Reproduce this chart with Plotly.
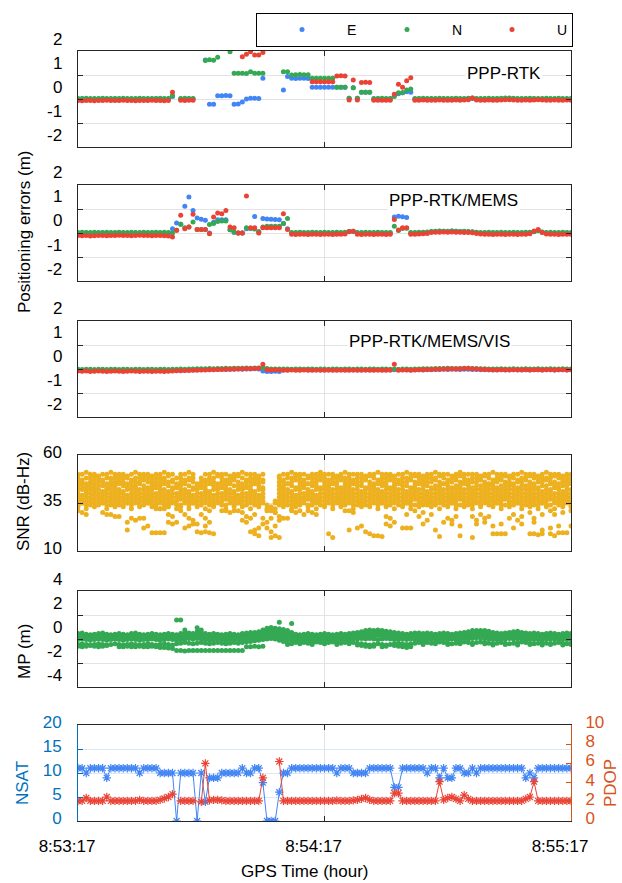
import plotly.graph_objects as go

NA = None
W, H = 622, 883

# ---------------- time axis (1 Hz epochs after 8:53:17) ----------------
EPOCH_SECONDS = list(range(0, 121))
TIME_TICK_SECONDS = [0, 60, 120]
TIME_TICK_LABELS = ["8:53:17", "8:54:17", "8:55:17"]

# ---------------- positioning errors (m) ----------------
E_RTK = [
 0.00, 0.01, 0.00, -0.01, 0.00, 0.00, 0.01, 0.00, 0.00, 0.01,
 0.00, 0.00, -0.01, 0.00, 0.00, 0.01, 0.00, 0.00, 0.00, 0.01,
 0.00, 0.00, 0.01, 0.10, NA, 0.00, 0.00, 0.01, 0.00, NA,
 NA, 1.62, -0.22, -0.22, 0.14, 0.14, 0.15, 0.14, -0.22, -0.21,
 -0.12, 0.00, 0.03, 0.03, 0.02, 0.86, NA, NA, NA, NA,
 0.38, 0.94, 0.86, 0.85, 0.86, 0.86, 0.85, 0.49, 0.49, 0.49,
 0.49, 0.49, 0.49, 0.49, 0.49, 0.49, 0.03, 0.47, 0.03, 0.28,
 0.28, 0.28, 0.00, 0.01, 0.00, 0.00, 0.01, 0.17, 0.22, 0.26,
 0.30, 0.28, 0.00, 0.01, 0.00, 0.00, 0.01, 0.00, 0.00, 0.01,
 0.00, 0.00, 0.01, 0.00, 0.00, 0.01, 0.02, 0.00, 0.00, 0.01,
 0.00, 0.00, 0.01, 0.00, 0.01, 0.02, 0.01, 0.00, 0.00, 0.01,
 0.00, 0.01, 0.00, 0.00, 0.01, 0.00, 0.00, 0.01, 0.00, 0.00, 0.01]
N_RTK = [
 0.02, 0.02, 0.03, 0.02, 0.02, 0.02, 0.03, 0.02, 0.02, 0.02,
 0.02, 0.03, 0.02, 0.02, 0.02, 0.03, 0.02, 0.02, 0.02, 0.02,
 0.03, 0.02, 0.02, 0.14, NA, 0.02, 0.03, 0.02, 0.02, NA,
 NA, 1.60, 1.64, 1.61, 1.74, 2.10, 2.10, 1.97, 1.07, 1.07,
 1.07, 1.06, 1.14, 1.07, 1.07, 1.07, NA, NA, NA, NA,
 1.14, 1.14, 1.00, 1.01, 1.02, 1.01, 1.01, 0.86, 0.86, 0.86,
 0.86, 0.86, 0.86, 0.49, 0.49, 0.49, 0.03, 0.47, 0.03, 0.28,
 0.28, 0.28, 0.02, 0.02, 0.03, 0.02, 0.02, 0.10, 0.26, 0.26,
 0.37, 0.42, 0.02, 0.02, 0.03, 0.02, 0.02, 0.02, 0.03, 0.02,
 0.02, 0.02, 0.03, 0.02, 0.02, 0.03, 0.04, 0.02, 0.02, 0.02,
 0.03, 0.02, 0.02, 0.03, 0.04, 0.04, 0.03, 0.02, 0.02, 0.02,
 0.03, 0.02, 0.02, 0.02, 0.03, 0.02, 0.02, 0.03, 0.02, 0.02, 0.02]
U_RTK = [
 -0.06, -0.07, -0.06, -0.06, -0.07, -0.06, -0.06, -0.05, -0.06, -0.06,
 -0.06, -0.05, -0.06, -0.06, -0.07, -0.06, -0.06, -0.06, -0.05, -0.06,
 -0.06, -0.07, -0.06, 0.28, NA, -0.05, -0.06, -0.05, -0.05, NA,
 NA, 2.30, 2.30, 2.30, 2.30, 2.30, 2.30, 2.30, 2.30, 2.30,
 1.76, 1.86, 1.97, 1.83, 1.83, 1.94, NA, NA, NA, NA,
 2.30, 2.30, 2.30, 2.30, 2.30, 2.30, 2.30, 0.72, 0.72, 0.72,
 0.72, 0.72, 0.72, 0.96, 0.97, 0.96, -0.04, 0.79, -0.04, 0.69,
 0.70, 0.69, -0.05, -0.05, -0.05, -0.05, -0.05, 0.20, 0.61, 0.49,
 0.76, 0.89, -0.05, -0.05, -0.04, -0.05, -0.05, -0.05, -0.04, -0.05,
 -0.05, -0.05, -0.04, -0.05, -0.04, -0.03, 0.04, -0.04, -0.05, -0.05,
 -0.04, -0.05, -0.05, -0.04, -0.03, -0.03, -0.04, -0.05, -0.05, -0.04,
 -0.05, -0.04, -0.03, -0.04, -0.05, -0.05, -0.04, -0.05, -0.05, -0.04, -0.05]

E_MEMS = [
 0.00, 0.00, 0.01, 0.00, 0.00, 0.00, 0.01, 0.00, 0.00, 0.00,
 0.01, 0.00, 0.00, 0.00, 0.01, 0.00, 0.00, 0.00, 0.01, 0.00,
 0.00, 0.00, 0.00, 0.18, 0.42, 0.36, 1.11, 1.50, 0.94, 0.63,
 0.57, 0.53, 0.00, 0.45, 0.55, 0.55, 0.55, 0.14, 0.03, 0.00,
 0.00, 0.18, 0.20, 0.69, 0.05, 0.60, 0.58, 0.57, 0.56, 0.55,
 0.40, 0.18, 0.00, 0.00, 0.01, 0.00, 0.00, 0.00, 0.01, 0.00,
 0.00, 0.00, 0.00, 0.01, 0.00, 0.00, 0.05, 0.06, 0.00, 0.00,
 0.00, 0.01, 0.00, 0.00, 0.00, 0.00, 0.00, 0.67, 0.70, 0.68,
 0.65, 0.00, 0.00, 0.00, 0.01, 0.02, 0.05, 0.06, 0.07, 0.07,
 0.06, 0.08, 0.07, 0.06, 0.06, 0.05, 0.04, 0.02, 0.00, 0.00,
 0.00, 0.01, 0.00, 0.00, 0.00, 0.00, 0.00, 0.01, 0.00, 0.00,
 0.02, 0.05, 0.10, 0.03, 0.00, 0.00, 0.00, 0.00, 0.01, 0.00, 0.00]
N_MEMS = [
 0.02, 0.03, 0.02, 0.02, 0.03, 0.02, 0.02, 0.03, 0.02, 0.02,
 0.03, 0.02, 0.02, 0.03, 0.02, 0.02, 0.03, 0.02, 0.02, 0.03,
 0.02, 0.03, 0.02, 0.00, 0.11, 0.36, 0.22, 0.25, 0.46, 0.15,
 0.15, 0.15, 0.35, 0.40, 0.48, 0.50, 0.50, 0.14, 0.03, 0.00,
 0.00, 0.22, 0.19, 0.17, 0.05, 0.25, 0.28, 0.28, 0.28, 0.28,
 0.40, 0.60, 0.02, 0.02, 0.03, 0.02, 0.02, 0.03, 0.02, 0.02,
 0.03, 0.02, 0.02, 0.03, 0.02, 0.03, 0.06, 0.07, 0.02, 0.02,
 0.03, 0.02, 0.02, 0.03, 0.02, 0.02, 0.02, 0.28, 0.10, 0.19,
 0.20, 0.02, 0.02, 0.03, 0.03, 0.04, 0.06, 0.07, 0.08, 0.07,
 0.07, 0.08, 0.07, 0.06, 0.07, 0.06, 0.05, 0.03, 0.02, 0.02,
 0.03, 0.02, 0.02, 0.03, 0.02, 0.02, 0.03, 0.02, 0.02, 0.03,
 0.03, 0.06, 0.09, 0.04, 0.02, 0.03, 0.02, 0.02, 0.03, 0.02, 0.02]
U_MEMS = [
 -0.10, -0.11, -0.10, -0.12, -0.11, -0.10, -0.10, -0.11, -0.10, -0.10,
 -0.09, -0.10, -0.10, -0.11, -0.10, -0.09, -0.10, -0.10, -0.11, -0.10,
 -0.10, -0.11, -0.12, -0.17, 0.11, 0.74, 0.18, 0.25, 0.78, 0.15,
 0.15, 0.15, -0.03, 0.67, 0.83, 0.80, 0.94, 0.25, 0.22, 0.00,
 0.00, 1.54, 0.22, 0.22, 0.00, 0.22, 0.22, 0.22, 0.22, 0.22,
 0.80, 0.15, -0.05, -0.06, -0.05, -0.05, -0.06, -0.05, -0.05, -0.06,
 -0.05, -0.05, -0.06, -0.05, -0.05, -0.04, 0.06, 0.07, -0.05, -0.06,
 -0.05, -0.05, -0.06, -0.05, -0.05, -0.06, -0.05, 0.56, 0.13, 0.22,
 0.22, -0.05, -0.05, -0.04, -0.03, -0.02, 0.02, 0.03, 0.03, 0.04,
 0.03, 0.04, 0.03, 0.03, 0.02, 0.02, 0.01, -0.02, -0.04, -0.05,
 -0.05, -0.06, -0.05, -0.05, -0.06, -0.05, -0.05, -0.06, -0.05, -0.05,
 -0.03, 0.08, 0.15, 0.02, -0.04, -0.05, -0.05, -0.06, -0.05, -0.05, -0.05]

E_VIS = [
 -0.05, -0.06, -0.05, -0.05, -0.06, -0.05, -0.05, -0.06, -0.05, -0.05,
 -0.06, -0.05, -0.05, -0.06, -0.05, -0.05, -0.06, -0.05, -0.05, -0.06,
 -0.05, -0.05, -0.06, -0.05, -0.05, -0.04, -0.05, -0.04, -0.04, -0.03,
 -0.03, -0.02, -0.03, -0.02, -0.02, -0.01, -0.02, -0.01, -0.01, 0.00,
 -0.01, 0.00, 0.00, 0.01, 0.00, -0.08, -0.10, -0.10, -0.09, -0.10,
 -0.05, -0.03, -0.02, -0.03, -0.03, -0.02, -0.03, -0.03, -0.04, -0.03,
 -0.03, -0.04, -0.03, -0.03, -0.04, -0.03, -0.03, -0.04, -0.03, -0.03,
 -0.04, -0.03, -0.03, -0.04, -0.03, -0.03, -0.04, -0.03, -0.02, -0.03,
 -0.03, -0.04, -0.03, -0.03, -0.04, -0.03, -0.03, -0.02, -0.02, -0.01,
 -0.02, -0.01, -0.01, -0.02, -0.01, -0.01, -0.02, -0.02, -0.03, -0.03,
 -0.03, -0.04, -0.03, -0.03, -0.04, -0.03, -0.03, -0.04, -0.03, -0.03,
 -0.04, -0.03, -0.03, -0.04, -0.03, -0.03, -0.04, -0.03, -0.03, -0.04, -0.03]
N_VIS = [
 -0.01, -0.02, -0.01, -0.01, -0.02, -0.01, -0.01, -0.02, -0.01, -0.01,
 -0.02, -0.01, -0.01, -0.02, -0.01, -0.01, -0.02, -0.01, -0.01, -0.02,
 -0.01, -0.01, -0.02, -0.01, -0.01, 0.00, -0.01, 0.00, 0.00, 0.01,
 0.01, 0.01, 0.02, 0.01, 0.02, 0.02, 0.03, 0.02, 0.03, 0.03,
 0.03, 0.04, 0.03, 0.04, 0.04, 0.05, 0.02, 0.00, 0.00, 0.00,
 0.00, 0.00, -0.01, 0.00, 0.00, -0.01, 0.00, 0.00, -0.01, 0.00,
 0.00, -0.01, 0.00, 0.00, -0.01, 0.00, 0.00, -0.01, 0.00, 0.00,
 -0.01, 0.00, 0.00, -0.01, 0.00, 0.00, -0.01, 0.00, -0.02, 0.00,
 0.00, -0.01, 0.00, 0.00, 0.01, 0.01, 0.01, 0.02, 0.02, 0.02,
 0.03, 0.02, 0.02, 0.02, 0.03, 0.03, 0.02, 0.02, 0.01, 0.01,
 0.00, 0.00, 0.00, 0.01, 0.00, 0.00, 0.01, 0.00, 0.00, 0.01,
 0.00, 0.00, 0.01, 0.00, 0.00, 0.01, 0.00, 0.00, 0.01, 0.00, 0.00]
U_VIS = [
 -0.08, -0.09, -0.08, -0.10, -0.09, -0.08, -0.09, -0.10, -0.09, -0.08,
 -0.09, -0.10, -0.09, -0.08, -0.09, -0.10, -0.09, -0.09, -0.10, -0.09,
 -0.09, -0.10, -0.09, -0.08, -0.07, -0.07, -0.06, -0.06, -0.05, -0.05,
 -0.04, -0.04, -0.03, -0.03, -0.02, -0.02, -0.01, -0.01, 0.00, 0.00,
 0.01, 0.01, 0.02, 0.02, 0.03, 0.20, -0.03, -0.04, -0.03, -0.04,
 -0.04, -0.05, -0.04, -0.05, -0.05, -0.04, -0.05, -0.05, -0.04, -0.05,
 -0.05, -0.04, -0.05, -0.05, -0.04, -0.05, -0.05, -0.04, -0.05, -0.05,
 -0.04, -0.05, -0.05, -0.04, -0.05, -0.05, -0.04, 0.20, -0.05, -0.04,
 -0.04, -0.05, -0.04, -0.03, -0.03, -0.02, -0.02, -0.01, -0.01, 0.00,
 0.00, 0.01, 0.00, 0.01, 0.02, 0.03, 0.01, 0.00, -0.01, -0.02,
 -0.03, -0.03, -0.04, -0.03, -0.03, -0.04, -0.03, -0.03, -0.04, -0.03,
 -0.04, -0.03, -0.03, -0.04, -0.03, -0.03, -0.04, -0.03, -0.03, -0.04, -0.03]

# ---------------- SNR (dB-Hz), one list per satellite ----------------
SNR_G01 = [
 50, 50, 51, 50, 50, 49, 50, 50, 51, 50, 50, 50, 49, 50, 51, 50, 50, 50, 49, 50,
 50, 51, 50, 50, NA, 50, 50, 51, 50, NA, NA, 50, 50, 51, 50, 50, 50, 49, 50, 50,
 51, 50, 50, 50, 49, 50, NA, NA, NA, 49, 50, 50, 51, 50, 50, 50, 49, 50, 50, 51,
 50, 50, 50, 49, 50, 51, 50, 50, 50, 50, 49, 50, 50, 51, 50, 50, 50, 49, 50, 50,
 51, 50, 50, 50, 49, 50, 50, 51, 50, 50, 50, 49, 50, 51, 50, 50, 50, 50, 49, 50,
 50, 51, 50, 50, 50, 49, 50, 50, 51, 50, 50, 50, 49, 50, 51, 50, 50, 50, 49, 50, 50]
SNR_G02 = [
 48, 47, 48, 48, 49, 48, 47, 48, 48, 48, 49, 48, 48, 47, 48, 48, 49, 48, 47, 48,
 48, 48, 49, 47, 48, 48, 47, 48, 48, NA, 48, 47, 48, 48, 49, 48, 47, 48, 48, 49,
 48, 47, 48, 48, 48, 47, NA, NA, NA, 48, 47, 48, 48, 49, 48, 47, 48, 48, 48, 49,
 48, 47, 48, 48, 49, 48, 48, 47, 48, 48, 48, 49, 48, 47, 48, 48, 49, 48, 47, 48,
 48, 48, 49, 48, 47, 48, 48, 48, 49, 48, 47, 48, 48, 49, 48, 47, 48, 48, 48, 49,
 48, 47, 48, 48, 49, 48, 48, 47, 48, 48, 49, 48, 47, 48, 48, 48, 49, 48, 47, 48, 48]
SNR_G03 = [
 46, 46, 45, 46, 47, 46, 46, 45, 46, 46, 47, 46, 45, 46, 46, 46, 47, 46, 45, 46,
 46, 47, 46, 46, 45, 46, 46, 47, 46, 45, 46, 46, 47, 46, 45, 46, 46, 46, 47, 46,
 45, 46, 46, 47, 46, 46, NA, NA, NA, 46, 46, 45, 46, 47, 46, 46, 45, 46, 46, 47,
 46, 45, 46, 46, 47, 46, 46, 45, 46, 46, 47, 46, 45, 46, 46, 46, 47, 46, 45, 46,
 46, 47, 46, 46, 45, 46, 46, 47, 46, 45, 46, 46, 47, 46, 46, 45, 46, 46, 47, 46,
 45, 46, 46, 47, 46, 46, 45, 46, 46, 47, 46, 45, 46, 46, 47, 46, 46, 45, 46, 46, 47]
SNR_G04 = [
 44, 44, 43, 44, 45, 44, 44, 43, 44, 44, 45, 44, 43, 44, 44, 45, 44, 43, 44, 44,
 44, 45, 44, 43, 44, 44, 45, 44, 43, 44, 44, 44, 45, 44, 43, 44, 44, 45, 44, 44,
 43, 44, 44, 45, 44, 43, NA, NA, NA, 44, 44, 45, 44, 43, 44, 44, 45, 44, 44, 43,
 44, 44, 45, 44, 43, 44, 44, 45, 44, 44, 43, 44, 44, 45, 44, 44, 43, 44, 45, 44,
 44, 43, 44, 45, 44, 44, 43, 44, 44, 45, 44, 43, 44, 44, 45, 44, 43, 44, 44, 45,
 44, 44, 43, 44, 45, 44, 44, 43, 44, 44, 45, 44, 43, 44, 44, 45, 44, 43, 44, 44, 45]
SNR_G05 = [
 42, 42, 41, 42, 43, 42, 41, 42, 42, 43, 42, 41, 42, 42, 43, 42, 42, 41, 42, 43,
 42, 42, 41, 42, 43, 42, 42, 41, 42, 42, 43, 42, 41, 42, 42, 43, 42, 42, 41, 42,
 42, 43, 42, 41, 42, 42, NA, NA, NA, 42, 43, 42, 41, 42, 42, 43, 42, 41, 42, 42,
 42, 43, 42, 42, 41, 42, 43, 42, 42, 41, 42, 42, 43, 42, 41, 42, 42, 43, 42, 42,
 41, 42, 43, 42, 42, 41, 42, 42, 43, 42, 42, 41, 42, 43, 42, 42, 41, 42, 42, 43,
 42, 42, 41, 42, 43, 42, 42, 41, 42, 42, 43, 42, 42, 41, 42, 42, 43, 42, 41, 42, 42]
SNR_G06 = [
 40, 39, 40, 40, 41, 40, 39, 40, 40, 41, 40, 40, 39, 40, 41, 40, 40, 39, 40, 40,
 41, 40, 39, 40, 40, 41, 40, 40, 39, 40, 40, 41, 40, 39, 40, 40, 41, 40, 40, 39,
 40, 40, 41, 40, 39, 40, NA, NA, NA, 40, 41, 40, 40, 39, 40, 40, 41, 40, 39, 40,
 40, 41, 40, 40, 39, 40, 41, 40, 40, 39, 40, 40, 41, 40, 39, 40, 40, 41, 40, 40,
 39, 40, 41, 40, 40, 39, 40, 40, 41, 40, 40, 39, 40, 41, 40, 40, 39, 40, 40, 41,
 40, 40, 39, 40, 41, 40, 40, 39, 40, 40, 41, 40, 40, 39, 40, 41, 40, 40, 39, 40, 40]
SNR_G07 = [
 38, 37, 38, 38, 39, 38, 37, 38, 38, 39, 38, 38, 37, 38, 39, 38, 38, 37, 38, 38,
 39, 38, 37, 38, 38, 39, 38, 38, 37, 38, 38, 39, 38, 37, 38, 38, 39, 38, 38, 37,
 38, 38, 39, 38, 37, 38, NA, NA, 36, 38, 39, 38, 38, 37, 38, 38, 39, 38, 37, 38,
 38, 39, 38, 38, 37, 38, 39, 38, 38, 37, 38, 38, 39, 38, 37, 38, 38, 39, 38, 38,
 37, 38, 39, 38, 38, 37, 38, 38, 39, 38, 38, 37, 38, 39, 38, 38, 37, 38, 38, 39,
 38, 38, 37, 38, 39, 38, 38, 37, 38, 38, 39, 38, 38, 37, 38, 39, 38, 38, 37, 38, 38]
SNR_G08 = [
 36, 35, 36, 36, 37, 36, 35, 36, 36, 37, 36, 36, 35, 36, 37, 36, 36, 35, 36, 36,
 37, 36, 35, 36, 36, 37, 36, 36, 35, 36, 36, 37, 36, 35, 36, 36, 37, 36, 36, 35,
 36, 36, 37, 36, 35, 36, 34, 33, 35, 36, 37, 36, 36, 35, 36, 36, 37, 36, 35, 36,
 36, 37, 36, 36, 35, 36, 37, 36, 36, 35, 36, 36, 37, 36, 35, 36, 36, 37, 36, 36,
 35, 36, 37, 36, 36, 35, 36, 36, 37, 36, 36, 35, 36, 37, 36, 36, 35, 36, 36, 37,
 36, 36, 35, 36, 37, 36, 36, 35, 36, 36, 37, 36, 36, 35, 36, 37, 36, 36, 35, 36, 36]
SNR_G09 = [
 34, 35, 34, 34, 35, 34, 35, 34, 34, 35, 34, 34, 35, 34, 35, 34, 34, 35, 34, 34,
 35, 34, 34, 35, 34, 34, 35, 34, 35, 34, 34, 35, 34, 34, 35, 34, 34, 35, 34, 35,
 34, 34, 35, 34, 34, 35, 31, 32, 30, 34, 35, 34, 34, 35, 34, 35, 34, 34, 35, 34,
 34, 35, 34, 35, 34, 34, 35, 34, 34, 35, 34, 34, 35, 34, 35, 34, 34, 35, 34, 34,
 35, 34, 34, 35, 34, 34, 35, 34, 35, 34, 34, 35, 34, 34, 35, 34, 34, 35, 34, 35,
 34, 34, 35, 34, 34, 35, 34, 35, 34, 34, 35, 34, 34, 35, 34, 34, 35, 34, 34, 35, 34]
SNR_G10 = [
 33, NA, 32, NA, 33, NA, NA, 32, NA, 33, NA, 33, NA, 32, NA, 33, NA, NA, 33, NA,
 32, NA, 33, NA, 32, 33, NA, 32, NA, 33, NA, 32, NA, 33, NA, NA, 32, NA, 33, NA,
 33, NA, 32, NA, 33, NA, 32, 31, 32, NA, 33, NA, 32, 33, NA, NA, 33, NA, 32, NA,
 33, NA, 32, NA, 33, NA, NA, 32, NA, 33, NA, 33, NA, 32, NA, 33, NA, 32, NA, 33,
 NA, 32, NA, 33, NA, NA, 33, NA, 32, NA, 33, NA, 32, NA, 33, NA, 32, NA, 33, NA,
 NA, 33, NA, 32, NA, 33, NA, NA, 32, NA, 33, NA, 32, NA, 33, NA, 32, NA, 33, NA, 33]
SNR_G11 = [
 31, 30, 29, NA, NA, NA, 30, 29, 29, 28, 28, NA, 25, 27, 26, 27, 27, NA, NA, 32,
 32, 32, 29, 28, 25, 31, 29, 27, 26, 24, 29, 27, 31, NA, NA, 31, 31, 30, 31, 31,
 30, 28, 27, 29, NA, 27, 25, 27, 30, 28, 27, 27, 31, 30, 31, 29, 31, 30, 29, NA,
 NA, NA, NA, NA, NA, 31, 31, 30, NA, NA, NA, NA, NA, NA, NA, 28, 27, 25, NA, NA,
 29, NA, 31, 28, 30, 26, 29, NA, NA, NA, 27, 26, 28, NA, NA, NA, 28, 26, 29, 27,
 28, NA, NA, NA, NA, 27, 29, 26, 28, NA, 30, 27, NA, 29, NA, 31, 29, NA, 30, NA, 31]
SNR_G12 = [
 NA, NA, NA, NA, NA, NA, NA, NA, NA, NA, NA, NA, 21, NA, NA, NA, 22, 23, NA, NA,
 NA, NA, 25, 24, NA, NA, 22, 23, 24, NA, NA, 23, 25, NA, NA, NA, NA, NA, NA, NA,
 26, 25, NA, 21, 22, 24, 22, 20, 23, 26, NA, NA, NA, NA, NA, NA, NA, NA, NA, NA,
 NA, NA, NA, NA, NA, NA, 21, NA, 22, 23, NA, NA, NA, NA, NA, 24, 23, NA, NA, 22,
 22, 22, NA, NA, 24, NA, NA, 21, NA, 25, NA, 24, NA, 23, NA, NA, NA, 24, NA, 25,
 NA, 23, NA, 24, NA, NA, 22, NA, 24, NA, NA, 25, NA, 21, NA, 22, NA, 23, NA, NA, 23]
SNR_G13 = [
 NA, NA, NA, NA, NA, NA, NA, NA, NA, NA, NA, NA, NA, NA, NA, NA, NA, NA, 19.5, 19.5,
 19.5, 19.5, NA, NA, NA, NA, NA, NA, NA, 20, 19.5, 20, 19.5, 19, NA, NA, NA, NA, NA, NA,
 NA, NA, 20, 19, 18, NA, NA, 17, 18, 17, NA, NA, NA, NA, NA, NA, NA, NA, NA, NA,
 NA, 19, 17, NA, NA, NA, NA, NA, NA, NA, 20, 19, 18, 18, 17.5, NA, NA, NA, NA, NA,
 NA, NA, NA, NA, NA, NA, NA, NA, 17.5, NA, NA, NA, NA, 18, NA, NA, 17, NA, NA, NA,
 NA, 19, 19, 19, 19, NA, NA, NA, NA, NA, 19, 19, 18.5, 19, NA, 19, 18, 19.5, 19.5, 19.5, NA]
SNR_ALL = [SNR_G01, SNR_G02, SNR_G03, SNR_G04, SNR_G05, SNR_G06, SNR_G07,
           SNR_G08, SNR_G09, SNR_G10, SNR_G11, SNR_G12, SNR_G13]

# ---------------- multipath MP (m), one list per satellite ----------------
MP_S1 = [
 0.45, 0.50, 0.40, 0.35, 0.40, 0.45, 0.50, 0.40, 0.35, 0.40, 0.45, 0.40, 0.35, 0.45, 0.50, 0.40, 0.35, 0.40, 0.45, 0.40,
 0.35, 0.40, 0.45, 0.40, 0.35, 0.45, 0.55, 0.50, 0.45, 0.60, 0.55, 0.45, 0.40, 0.45, 0.40, 0.35, 0.40, 0.45, 0.40, 0.35,
 0.45, 0.50, 0.55, 0.55, 0.60, 0.75, 0.90, 0.95, 0.90, 0.85, 0.80, 0.70, 0.55, 0.40, 0.35, 0.40, 0.45, 0.40, 0.35, 0.40,
 0.45, 0.40, 0.35, 0.40, 0.45, 0.40, 0.45, 0.50, 0.55, 0.60, 0.70, 0.75, 0.70, 0.75, 0.70, 0.65, 0.60, 0.55, 0.50, 0.45,
 0.40, 0.45, 0.50, 0.50, 0.45, 0.50, 0.45, 0.40, 0.45, 0.50, 0.45, 0.40, 0.45, 0.50, 0.55, 0.60, 0.70, 0.70, 0.70, 0.70,
 0.65, 0.55, 0.50, 0.45, 0.50, 0.55, 0.60, 0.65, 0.55, 0.50, 0.45, 0.50, 0.45, 0.40, 0.45, 0.50, 0.45, 0.40, 0.45, 0.50, 0.45]
MP_S2 = [
 0.30, 0.25, 0.20, 0.30, 0.25, 0.20, 0.25, 0.30, 0.20, 0.25, 0.20, 0.25, 0.30, 0.25, 0.20, 0.30, 0.25, 0.20, 0.25, 0.30,
 0.25, 0.20, 0.25, 0.30, 0.25, 0.30, 0.35, 0.30, 0.35, 0.40, 0.35, 0.30, 0.25, 0.30, 0.25, 0.20, 0.25, 0.30, 0.25, 0.20,
 0.25, 0.30, 0.35, 0.40, 0.45, 0.55, 0.65, 0.70, 0.65, 0.60, 0.55, 0.45, 0.35, 0.20, 0.25, 0.30, 0.25, 0.20, 0.25, 0.30,
 0.25, 0.30, 0.25, 0.20, 0.25, 0.30, 0.25, 0.30, 0.35, 0.40, 0.45, 0.50, 0.45, 0.50, 0.45, 0.40, 0.35, 0.30, 0.30, 0.25,
 0.30, 0.25, 0.30, 0.35, 0.30, 0.25, 0.30, 0.25, 0.30, 0.35, 0.30, 0.25, 0.30, 0.35, 0.30, 0.35, 0.45, 0.50, 0.50, 0.45,
 0.40, 0.35, 0.30, 0.25, 0.30, 0.35, 0.40, 0.45, 0.35, 0.30, 0.30, 0.35, 0.30, 0.25, 0.30, 0.35, 0.30, 0.25, 0.30, 0.35, 0.30]
MP_S3 = [
 0.10, 0.05, 0.10, 0.15, 0.10, 0.05, 0.10, 0.15, 0.10, 0.05, 0.10, 0.15, 0.10, 0.05, 0.10, 0.15, 0.10, 0.05, 0.10, 0.10,
 0.15, 0.10, 0.05, 0.10, 0.15, 0.10, 0.15, 0.20, 0.15, 0.20, 0.15, 0.10, 0.05, 0.10, 0.15, 0.10, 0.05, 0.10, 0.15, 0.10,
 0.10, 0.15, 0.20, 0.25, 0.30, 0.35, 0.40, 0.45, 0.40, 0.35, 0.30, 0.20, 0.15, 0.10, 0.15, 0.10, 0.05, 0.10, 0.10, 0.15,
 0.10, 0.05, 0.10, 0.15, 0.10, 0.05, 0.10, 0.15, 0.20, 0.20, 0.25, 0.30, 0.25, 0.30, 0.25, 0.20, 0.20, 0.15, 0.10, 0.15,
 0.10, 0.15, 0.20, 0.15, 0.10, 0.15, 0.10, 0.15, 0.20, 0.15, 0.10, 0.15, 0.10, 0.15, 0.20, 0.15, 0.25, 0.30, 0.30, 0.25,
 0.20, 0.15, 0.10, 0.15, 0.10, 0.15, 0.20, 0.25, 0.20, 0.15, 0.10, 0.15, 0.10, 0.15, 0.10, 0.15, 0.10, 0.15, 0.10, 0.15, 0.10]
MP_S4 = [
 -0.05, 0.00, -0.05, -0.10, -0.05, 0.00, -0.05, -0.10, -0.05, 0.00, -0.05, -0.10, -0.05, 0.00, -0.05, -0.10, -0.05, -0.05, 0.00, -0.05,
 -0.10, -0.05, 0.00, -0.05, -0.10, -0.05, 0.00, 0.05, 0.00, 0.05, 0.00, -0.05, -0.10, -0.05, 0.00, -0.05, -0.10, -0.05, 0.00, -0.05,
 -0.05, 0.00, 0.05, 0.10, 0.10, 0.15, 0.20, 0.25, 0.20, 0.15, 0.05, -0.05, -0.10, -0.05, 0.00, -0.05, -0.10, -0.05, 0.00, -0.05,
 -0.05, -0.10, -0.05, 0.00, -0.05, -0.10, -0.05, 0.00, 0.00, 0.05, 0.00, 0.05, 0.00, -0.05, 0.00, 0.05, 0.00, -0.05, -0.05, 0.00,
 -0.05, 0.00, -0.05, 0.00, -0.05, 0.00, -0.05, 0.00, -0.05, 0.00, -0.05, 0.00, -0.05, 0.00, 0.05, 0.00, 0.05, 0.10, 0.10, 0.05,
 0.00, -0.05, 0.00, -0.05, 0.00, 0.05, 0.00, 0.05, 0.00, -0.05, 0.00, -0.05, 0.00, -0.05, 0.00, -0.05, 0.00, -0.05, 0.00, -0.05, 0.00]
MP_S5 = [
 -0.45, -0.40, -0.45, -0.50, -0.45, -0.40, -0.45, -0.50, -0.45, -0.40, -0.45, -0.50, -0.45, -0.40, -0.45, -0.50, -0.45, -0.40, -0.45, -0.50,
 -0.45, -0.40, -0.45, -0.50, -0.40, -0.35, -0.30, -0.35, -0.40, -0.35, -0.30, -0.35, -0.40, -0.35, -0.30, -0.35, -0.40, -0.35, -0.30, -0.35,
 -0.30, -0.25, -0.20, -0.15, -0.10, -0.05, 0.00, 0.05, 0.00, -0.10, -0.20, -0.35, -0.40, -0.30, -0.25, -0.30, -0.35, -0.30, -0.25, -0.30,
 -0.35, -0.30, -0.25, -0.30, -0.35, -0.30, -0.25, -0.30, -0.35, -0.40, -0.45, -0.50, -0.45, -0.40, -0.45, -0.50, -0.45, -0.40, -0.35, -0.40,
 -0.45, -0.40, -0.35, -0.30, -0.25, -0.30, -0.35, -0.30, -0.25, -0.30, -0.35, -0.40, -0.35, -0.30, -0.25, -0.30, -0.35, -0.30, -0.25, -0.30,
 -0.35, -0.40, -0.35, -0.30, -0.35, -0.40, -0.35, -0.30, -0.25, -0.30, -0.35, -0.40, -0.35, -0.30, -0.35, -0.40, -0.35, -0.30, -0.35, -0.40, -0.35]
MP_S6 = [
 -0.60, -0.65, -0.60, -0.55, -0.60, -0.65, -0.60, -0.55, NA, NA, -0.65, -0.65, -0.60, -0.65, -0.65, -0.60, -0.65, -0.65, -0.60, -0.65,
 -0.70, -0.70, -0.75, -0.80, -0.95, -0.95, -1.00, -0.95, -0.95, -0.95, -0.95, -0.95, -0.95, -0.95, -0.95, -0.95, -0.95, -0.95, -0.95, -0.95,
 -0.95, -0.65, -0.65, -0.60, -0.65, -0.60, NA, NA, NA, NA, NA, -0.45, NA, NA, -0.40, NA, NA, -0.45, NA, NA,
 -0.40, NA, NA, -0.45, NA, NA, -0.40, NA, -0.50, -0.55, -0.60, -0.65, -0.60, NA, -0.65, -0.60, NA, -0.55, -0.60, -0.65,
 -0.70, -0.65, NA, NA, -0.45, NA, NA, -0.40, NA, NA, -0.45, NA, NA, -0.40, NA, NA, -0.45, NA, NA, -0.40,
 NA, -0.50, NA, NA, -0.45, NA, NA, -0.50, NA, NA, -0.45, NA, NA, -0.50, NA, -0.45, NA, NA, -0.50, NA, -0.45]
MP_S7 = [
 NA, NA, NA, NA, NA, NA, NA, NA, NA, NA, NA, NA, NA, NA, NA, NA, NA, NA, NA, NA,
 NA, NA, NA, NA, 1.58, 1.58, 0.75, NA, NA, 0.94, 0.75, NA, NA, NA, NA, NA, NA, NA, NA, NA,
 NA, NA, NA, NA, NA, NA, NA, NA, NA, 1.40, NA, NA, 1.30, NA, NA, NA, NA, NA, NA, NA,
 NA, NA, NA, NA, NA, NA, NA, NA, NA, NA, NA, NA, NA, NA, NA, NA, NA, NA, NA, NA,
 NA, NA, NA, NA, NA, NA, NA, NA, NA, NA, NA, NA, NA, NA, NA, NA, NA, NA, NA, NA,
 NA, NA, NA, NA, NA, NA, NA, NA, NA, NA, NA, NA, NA, NA, NA, NA, NA, NA, NA, NA, NA]
MP_ALL = [MP_S1, MP_S2, MP_S3, MP_S4, MP_S5, MP_S6, MP_S7]

# ---------------- satellites used and PDOP ----------------
NSAT = [
 11, 11, 10, 11, 11, 11, 11, 9, 11, 11, 11, 11, 11, 11, 11, 10, 11, 11, 11, 11,
 10, 10, 10, 10, 0, 10, 10, 10, 10, 0, 10, 4, 9, 9, 9, 10, 10, 10, 10, 10,
 11, 10, 10, 11, 11, 8, 0, 0, 0, 6, 10, 10, 11, 11, 11, 11, 11, 11, 11, 11,
 11, 11, 11, 10, 11, 11, 11, 10, 10, 10, 10, 11, 11, 11, 11, 11, 11, 7, 7, 11,
 11, 11, 11, 11, 11, 10, 11, 11, 9, 11, 9, 9, 11, 11, 10, 10, 11, 10, 11, 11,
 11, 11, 11, 11, 11, 11, 11, 11, 11, 9, 10, 9, 11, 11, 11, 11, 11, 11, 11, 11, 11]
PDOP = [
 2.1, 2.1, 2.4, 2.1, 2.1, 2.1, 2.1, 2.5, 2.1, 2.1, 2.1, 2.1, 2.1, 2.1, 2.1, 2.2, 2.1, 2.1, 2.1, 2.1,
 2.2, 2.35, 2.5, 2.8, NA, 2.1, 2.1, 2.1, 2.1, NA, 2.0, 6.0, 2.15, 2.2, 2.2, 2.15, 2.1, 2.1, 2.1, 2.1,
 2.1, 2.1, 2.1, 2.1, 2.1, 4.5, NA, NA, NA, 6.2, 2.1, 2.1, 2.1, 2.1, 2.1, 2.1, 2.1, 2.1, 2.1, 2.1,
 2.1, 2.1, 2.1, 2.15, 2.1, 2.1, 2.1, 2.15, 2.2, 2.3, 2.4, 2.2, 2.1, 2.1, 2.1, 2.1, 2.1, 2.9, 2.9, 2.1,
 2.1, 2.1, 2.1, 2.1, 2.1, 2.1, 2.1, 2.1, 4.1, 2.2, 2.4, 2.5, 2.3, 2.1, 2.7, 2.3, 2.1, 2.1, 2.1, 2.1,
 2.1, 2.1, 2.1, 2.1, 2.1, 2.1, 2.1, 2.1, 2.1, 2.3, 2.5, 4.1, 2.1, 2.1, 2.1, 2.1, 2.1, 2.1, 2.1, 2.1, 2.1]

# ---------------- ticks / labels ----------------
ERR_TICKS = [-2, -1, 0, 1, 2]
SNR_TICKS = [10, 35, 60]
MP_TICKS = [-4, -2, 0, 2, 4]
NSAT_TICKS = [0, 5, 10, 15, 20]
PDOP_TICKS = [0, 2, 4, 6, 8, 10]
COMPONENTS = ["E", "N", "U"]
PANEL_NAMES = ["PPP-RTK", "PPP-RTK/MEMS", "PPP-RTK/MEMS/VIS"]

for arr in [E_RTK, N_RTK, U_RTK, E_MEMS, N_MEMS, U_MEMS, E_VIS, N_VIS, U_VIS,
            NSAT, PDOP] + SNR_ALL + MP_ALL:
    assert len(arr) == 121, len(arr)

# ---------------- style ----------------
FONT = "Liberation Sans, Arial, sans-serif"
DARK = "#262626"
GRID = "#E3E3E3"
C_E, C_N, C_U = "#4285F4", "#34A853", "#EA4335"
C_SNR = "#EDB120"
C_MP = "#34A853"
C_NSAT_AX, C_PDOP_AX = "#0072BD", "#D95319"

X0, X1 = 78, 571
TOPS = [51, 185, 321, 455, 591, 725]
PH = 96


def ydom(top):
    return [1 - (top + PH) / H, 1 - top / H]


fig = go.Figure()

err_sets = [(E_RTK, N_RTK, U_RTK), (E_MEMS, N_MEMS, U_MEMS), (E_VIS, N_VIS, U_VIS)]
for p, comps in enumerate(err_sets):
    ax = "" if p == 0 else str(p + 1)
    for name, vals, col in zip(COMPONENTS, comps, [C_E, C_N, C_U]):
        fig.add_trace(go.Scatter(
            x=EPOCH_SECONDS, y=vals, mode="markers", name=name,
            marker=dict(size=5, color=col), showlegend=(p == 0),
            xaxis="x" + ax, yaxis="y" + ax))

snr_x, snr_y = [], []
for sat in SNR_ALL:
    snr_x += EPOCH_SECONDS
    snr_y += sat
fig.add_trace(go.Scatter(x=snr_x, y=snr_y, mode="markers", showlegend=False,
                         marker=dict(size=5, color=C_SNR), xaxis="x4", yaxis="y4"))

mp_x, mp_y = [], []
for sat in MP_ALL:
    mp_x += EPOCH_SECONDS
    mp_y += sat
fig.add_trace(go.Scatter(x=mp_x, y=mp_y, mode="markers", showlegend=False,
                         marker=dict(size=5, color=C_MP), xaxis="x5", yaxis="y5"))

fig.add_trace(go.Scatter(x=EPOCH_SECONDS, y=NSAT, mode="lines+markers", showlegend=False,
                         line=dict(color=C_E, width=1),
                         marker=dict(symbol="asterisk-open", size=7, color=C_E,
                                     line=dict(width=1.2, color=C_E)),
                         xaxis="x6", yaxis="y6"))
fig.add_trace(go.Scatter(x=EPOCH_SECONDS, y=PDOP, mode="lines+markers", showlegend=False,
                         line=dict(color=C_U, width=1),
                         marker=dict(symbol="asterisk-open", size=7, color=C_U,
                                     line=dict(width=1.2, color=C_U)),
                         xaxis="x6", yaxis="y7"))

layout = dict(
    width=W, height=H, margin=dict(l=0, r=0, t=0, b=0),
    template="none", paper_bgcolor="white", plot_bgcolor="white",
    font=dict(family=FONT, size=17, color="black"),
    legend=dict(orientation="h", x=256 / W, y=1 - 13 / H, xanchor="left", yanchor="top",
                bordercolor="black", borderwidth=1, bgcolor="white",
                font=dict(size=14, color="black"), entrywidth=10, entrywidthmode="pixels",
                itemwidth=80),
)

for i in range(6):
    ax = "" if i == 0 else str(i + 1)
    layout["xaxis" + ax] = dict(
        domain=[X0 / W, X1 / W], anchor="y" + (str(i + 1) if i else ""), range=[0, 120],
        tickmode="array", tickvals=TIME_TICK_SECONDS, ticktext=TIME_TICK_LABELS,
        showticklabels=(i == 5), ticks="inside", ticklen=5, tickwidth=1, tickcolor=DARK,
        showline=True, linewidth=1, linecolor=DARK, mirror="ticks",
        showgrid=True, gridcolor=GRID, gridwidth=1, zeroline=False, automargin=False,
        tickfont=dict(size=17, color="black"), ticklabelshift=-11, ticklabelstandoff=10)

# (tick values, range, label lift in px) for the five upper panels
ycfg = [
    (ERR_TICKS, [-2, 2], 12), (ERR_TICKS, [-2, 2], 12), (ERR_TICKS, [-2, 2], 12),
    (SNR_TICKS, [10, 60], 3), (MP_TICKS, [-4, 4], 12),
]
annotations = []
for i, (tv, rng, lift) in enumerate(ycfg):
    ax = "" if i == 0 else str(i + 1)
    layout["yaxis" + ax] = dict(
        domain=ydom(TOPS[i]), anchor="x" + ax, range=rng, tickmode="array", tickvals=tv,
        showticklabels=False, ticks="inside", ticklen=5, tickwidth=1, tickcolor=DARK,
        showline=True, linewidth=1, linecolor=DARK, mirror="ticks",
        showgrid=True, gridcolor=GRID, gridwidth=1, zeroline=False, automargin=False)
    # tick labels placed on the axis' own scale (yref) and lifted like the original
    for v in tv:
        annotations.append(dict(
            text=str(v), x=(X0 - 14) / W, xref="paper", xanchor="right",
            y=v, yref="y" + ax, yanchor="middle", yshift=lift, showarrow=False,
            font=dict(family=FONT, size=17, color="black")))

layout["yaxis6"] = dict(
    domain=ydom(TOPS[5]), anchor="x6", range=[0, 20], tickmode="array", tickvals=NSAT_TICKS,
    ticks="inside", ticklen=5, tickwidth=1, tickcolor=C_NSAT_AX,
    showline=True, linewidth=1, linecolor=C_NSAT_AX,
    showgrid=True, gridcolor="#DCE9F4", gridwidth=1, zeroline=False, automargin=False,
    tickfont=dict(size=17, color=C_NSAT_AX), ticklabelshift=-3, ticklabelstandoff=12)
layout["yaxis7"] = dict(
    overlaying="y6", anchor="x6", side="right", range=[0, 10], tickmode="array",
    tickvals=PDOP_TICKS, ticks="inside", ticklen=5, tickwidth=1, tickcolor=C_PDOP_AX,
    showline=True, linewidth=1, linecolor=C_PDOP_AX, showgrid=False, zeroline=False,
    automargin=False, tickfont=dict(size=17, color=C_PDOP_AX), ticklabelshift=-3,
    ticklabelstandoff=10)


def ann(text, x, y, color="black", angle=0, size=17, bg=None):
    d = dict(text=text, x=x / W, y=1 - y / H, xref="paper", yref="paper",
             showarrow=False, textangle=angle, xanchor="center", yanchor="middle",
             font=dict(family=FONT, size=size, color=color))
    if bg:
        d["bgcolor"] = bg
    return d


annotations += [
    ann(PANEL_NAMES[0], 504, 74, bg="white"),
    ann(PANEL_NAMES[1], 453, 201, bg="white"),
    ann(PANEL_NAMES[2], 429, 341, bg="white"),
    ann("Positioning errors (m)", 24, 232, angle=-90),
    ann("SNR (dB-Hz)", 24, 502, angle=-90),
    ann("MP (m)", 24, 652, angle=-90),
    ann("NSAT", 22, 783, color=C_NSAT_AX, angle=-90),
    ann("PDOP", 610, 783, color=C_PDOP_AX, angle=-90),
    ann("GPS Time (hour)", 305, 871),
]
layout["annotations"] = annotations

fig.update_layout(**layout)
fig.write_html("out.html")
